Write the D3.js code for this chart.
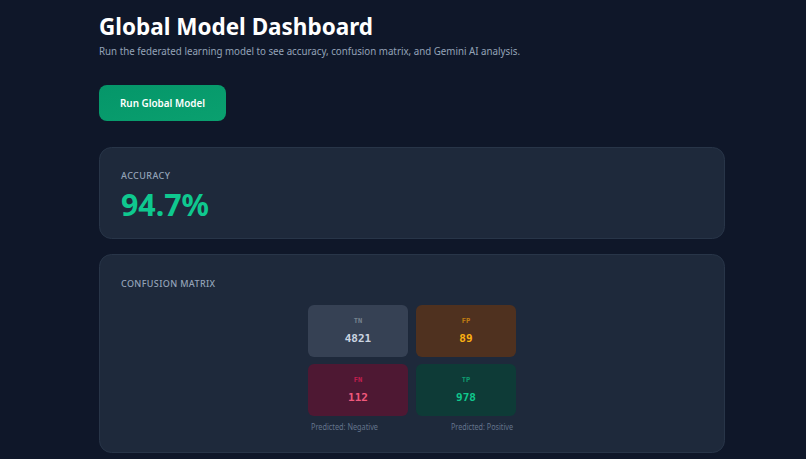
<!DOCTYPE html>
<html><head><meta charset="utf-8">
<script src="https://cdn.jsdelivr.net/npm/d3@7/dist/d3.min.js"></script>
<style>html,body{margin:0;padding:0;background:#0f1729;overflow:hidden}svg{display:block}</style>
</head><body><svg id="c" width="806" height="459"></svg>
<script>
const title = "Global Model Dashboard";
const subtitle = "Run the federated learning model to see accuracy, confusion matrix, and Gemini AI analysis.";
const buttonLabel = "Run Global Model";
const accuracyLabel = "ACCURACY";
const accuracyValue = 94.7;
const matrixLabel = "CONFUSION MATRIX";
const rowsKeys = [0, 1];
const colsKeys = [0, 1];
const cellNames = ["TN", "FP", "FN", "TP"];
const cellValues = [4821, 89, 112, 978];
const cellFills = ["#364154", "#4f311f", "#4e1833", "#0e3b37"];
const cellLabelColors = ["#76838f", "#c27f12", "#c51f50", "#0f9a70"];
const cellValueColors = ["#cbd5e1", "#fbb012", "#f0587c", "#10c88d"];
const axisLabels = ["Predicted: Negative", "Predicted: Positive"];

const UI = "'Noto Sans', sans-serif";
const MONO = "'DejaVu Sans Mono', monospace";
const svg = d3.select("#c");
const text = (x, y, s, size, weight, fill, len, adjust = "spacingAndGlyphs") =>
  svg.append("text").attr("x", x).attr("y", y).attr("font-family", UI).attr("font-size", size)
    .attr("font-weight", weight).attr("fill", fill).attr("textLength", len).attr("lengthAdjust", adjust).text(s);
const card = (x, y, w, h) => svg.append("rect").attr("x", x + .5).attr("y", y + .5).attr("width", w - 1).attr("height", h - 1)
    .attr("rx", 12).attr("fill", "#1e293b").attr("stroke", "#283548");

text(99, 35, title, 24, 700, "#ffffff", 274);
text(99, 55, subtitle, 10.6, 400, "#94a3b8", 421);

const grad = svg.append("defs").append("linearGradient").attr("id", "btn").attr("x1", 0).attr("x2", 1).attr("y1", 0).attr("y2", 1);
grad.append("stop").attr("offset", 0).attr("stop-color", "#059669");
grad.append("stop").attr("offset", 1).attr("stop-color", "#0aa06f");
svg.append("rect").attr("x", 99).attr("y", 85).attr("width", 127).attr("height", 36).attr("rx", 8).attr("fill", "url(#btn)");
text(120, 107, buttonLabel, 10.5, 600, "#ffffff", 85);

card(99, 147, 626, 92);
text(121, 179, accuracyLabel, 9, 500, "#94a3b8", 49, "spacing");
text(121, 216, accuracyValue.toFixed(1) + "%", 31, 700, "#0fc88f", 88);

card(99, 254, 626, 199);
text(121, 287, matrixLabel, 9, 500, "#94a3b8", 94, "spacing");

const x = d3.scaleBand().domain(colsKeys).range([308, 516]).paddingInner(0.074);
const y = d3.scaleBand().domain(rowsKeys).range([305, 416]).paddingInner(0.119);
const cells = cellNames.map((n, i) => ({ n, v: cellValues[i], fill: cellFills[i], lc: cellLabelColors[i], vc: cellValueColors[i], c: i % 2, r: Math.floor(i / 2) }));
const g = svg.selectAll("g.cell").data(cells).join("g").attr("class", "cell")
  .attr("transform", d => `translate(${x(d.c)},${y(d.r)})`);
g.append("rect").attr("width", x.bandwidth()).attr("height", y.bandwidth()).attr("rx", 6).attr("fill", d => d.fill);
g.append("text").attr("x", x.bandwidth() / 2).attr("y", 18).attr("text-anchor", "middle").attr("font-family", MONO)
  .attr("font-size", 7).attr("font-weight", 700).attr("fill", d => d.lc).text(d => d.n);
g.append("text").attr("x", x.bandwidth() / 2).attr("y", 37).attr("text-anchor", "middle").attr("font-family", MONO)
  .attr("font-size", 11).attr("font-weight", 700).attr("fill", d => d.vc).text(d => d.v);

text(311, 430, axisLabels[0], 8, 400, "#64748b", 67);
text(451, 430, axisLabels[1], 8, 400, "#64748b", 62);
</script></body></html>
